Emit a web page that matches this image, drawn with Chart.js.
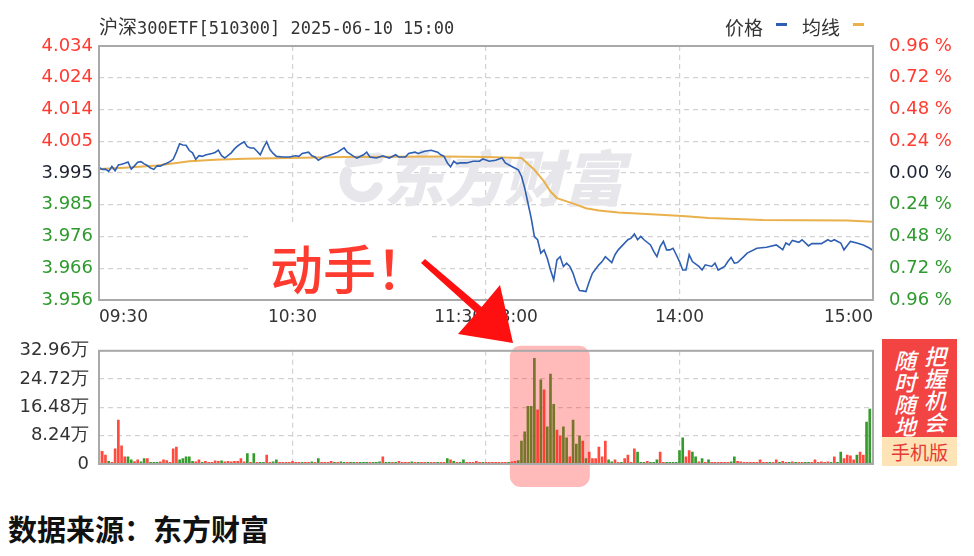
<!DOCTYPE html>
<html><head><meta charset="utf-8">
<script src="https://cdn.jsdelivr.net/npm/chart.js@4.4.1/dist/chart.umd.min.js"></script>
<style>
html,body{margin:0;padding:0;background:#fff;}
#wrap{position:relative;width:974px;height:556px;overflow:hidden;background:#fff;}
canvas{position:absolute;left:0;}
#pc{top:0;} #vc{top:330px;}
.t{position:absolute;white-space:nowrap;line-height:1;}
</style></head><body>
<div id="wrap">
<canvas id="pc" width="974" height="330"></canvas>
<canvas id="vc" width="974" height="160"></canvas>
<div class="t" style="left:99px;top:12px;color:#333;"><span style="font:19px 'Noto Sans CJK SC'">沪深</span><span style="font:17px 'DejaVu Sans Mono'">300ETF[510300] 2025-06-10 15:00</span></div>
<div class="t" style="left:725px;top:13px;color:#333;font:19px 'Noto Sans CJK SC'">价格</div>
<div style="position:absolute;left:776px;top:23px;width:11px;height:3px;background:#2e5fb3"></div>
<div class="t" style="left:802px;top:13px;color:#333;font:19px 'Noto Sans CJK SC'">均线</div>
<div style="position:absolute;left:853px;top:23px;width:11px;height:3px;background:#e9b04c"></div>
<div style="position:absolute;left:882px;top:339px;width:75px;height:98px;background:#f34444"></div>
<div class="t" style="left:894px;top:348px;width:24px;color:#fff;font:italic 500 22px/22px 'Noto Sans CJK SC';white-space:normal">随<br>时<br>随<br>地</div>
<div class="t" style="left:924px;top:344px;width:24px;color:#fff;font:italic 500 22px/22px 'Noto Sans CJK SC';white-space:normal">把<br>握<br>机<br>会</div>
<div class="t" style="left:882px;top:437px;width:75px;height:29px;background:#fde3b5;color:#e63b35;font:19px/29px 'Noto Sans CJK SC';text-align:center">手机版</div>
<div class="t" style="left:8px;top:514px;color:#111;font:bold 29px/29px 'Noto Sans CJK SC'">数据来源：东方财富</div>
<svg width="974" height="556" style="position:absolute;left:0;top:0;pointer-events:none">
<polygon points="421,263 425,259 481.6,307 500,285 513,343 458,334 476.4,313" fill="#ff1010"/>
</svg>
</div>
<script>
// ---------- data ----------
const timeTickMinutes = [0, 60, 120, 180, 240];
const timeTickLabels = ['09:30', '10:30', '11:30/13:00', '14:00', '15:00'];

const priceTickValues = [3.956, 3.96575, 3.9755, 3.98525, 3.995, 4.00475, 4.0145, 4.02425, 4.034];
const priceTickLabels = ['3.956', '3.966', '3.976', '3.985', '3.995', '4.005', '4.014', '4.024', '4.034'];
const pctTickLabels = ['0.96 %', '0.72 %', '0.48 %', '0.24 %', '0.00 %', '0.24 %', '0.48 %', '0.72 %', '0.96 %'];

const priceMinutes = [0,1,2,3,4,5,6,7,8,9,10,11,12,13,14,15,16,17,18,19,20,21,22,23,24,25,26,27,28,29,30,31,32,33,35,36,37,38,39,41,42,43,44,45,46,47,48,49,50,51,52,53,54,55,57,59,61,62,63,65,66,67,68,70,71,73,74,76,77,79,80,82,83,84,86,88,90,92,93,95,96,98,99,101,103,105,106,107,108,109,110,111,112,114,116,118,119,120,121,123,124,125,126,128,130,131,132,133,134,135,136,137,138,139,140,141,142,143,144,145,146,147,148,149,150,151,152,153,155,156,157,159,160,161,164,165,166,167,168,169,171,172,173,174,175,176,177,178,179,180,181,182,183,184,186,187,188,190,191,192,194,195,196,197,198,200,201,204,207,210,211,212,213,214,215,217,218,220,221,224,226,227,228,230,231,233,235,237,239,240];
const priceValues = [3.9967,3.9961,3.9962,3.9955,3.9970,3.9957,3.9975,3.9977,3.9980,3.9984,3.9962,3.9972,3.9983,3.9985,3.9978,3.9973,3.9965,3.9961,3.9972,3.9971,3.9976,3.9980,3.9985,3.9992,4.0014,4.0040,4.0036,4.0035,4.0019,4.0012,3.9992,4.0003,4.0001,4.0005,4.0010,4.0013,4.0020,4.0003,3.9996,4.0012,4.0024,4.0033,4.0040,4.0046,4.0031,4.0027,4.0027,4.0017,4.0006,4.0028,4.0046,4.0022,4.0010,4.0001,3.9999,3.9999,4.0003,4.0001,4.0010,4.0014,4.0003,3.9999,3.9989,4.0001,4.0003,4.0010,4.0014,4.0027,4.0014,4.0001,3.9996,4.0006,4.0014,3.9999,3.9996,4.0003,3.9996,4.0006,3.9999,3.9999,4.0010,4.0014,4.0010,4.0017,4.0020,4.0014,4.0006,4.0001,3.9981,3.9969,3.9986,3.9979,3.9981,3.9981,3.9986,3.9986,3.9993,3.9990,3.9986,3.9989,3.9993,3.9996,3.9981,3.9970,3.9960,3.9940,3.9904,3.9858,3.9812,3.9755,3.9745,3.9704,3.9714,3.9688,3.9652,3.9622,3.9683,3.9693,3.9663,3.9673,3.9663,3.9642,3.9611,3.9589,3.9588,3.9586,3.9616,3.9642,3.9668,3.9678,3.9693,3.9675,3.9699,3.9714,3.9745,3.9750,3.9763,3.9745,3.9755,3.9745,3.9729,3.9709,3.9693,3.9724,3.9740,3.9714,3.9714,3.9719,3.9699,3.9678,3.9652,3.9652,3.9699,3.9678,3.9663,3.9652,3.9668,3.9663,3.9673,3.9652,3.9663,3.9678,3.9691,3.9673,3.9675,3.9694,3.9704,3.9719,3.9722,3.9729,3.9722,3.9714,3.9735,3.9729,3.9743,3.9737,3.9745,3.9726,3.9733,3.9733,3.9745,3.9740,3.9745,3.9735,3.9714,3.9740,3.9735,3.9729,3.9719,3.9712];

const avgMinutes = [0,8,18,24,28,36,45,59,76,107,120,131,135,138,140,142,145,148,151,155,161,174,182,189,206,232,240];
const avgValues = [3.9962,3.9966,3.9973,3.9981,3.9986,3.9991,3.9994,3.9996,3.9999,4.0001,3.9999,3.9996,3.9960,3.9924,3.9893,3.9873,3.9863,3.9853,3.9842,3.9835,3.9829,3.9822,3.9817,3.9812,3.9806,3.9804,3.9800];

const volTickValues = [0, 8.24, 16.48, 24.72, 32.96];
const volTickLabels = ['0', '8.24万', '16.48万', '24.72万', '32.96万'];
// volume (万手) per minute, index 0 = 09:30 ... 240 = 15:00
const volValues = [
3.9,3.7,2.6,0.8,0.5,4.4,12.8,5.3,2.1,2.1, 1.2,0.7,1.2,0.6,1.6,1.6,0.5,0.5,0.5,0.6,
1.2,1.0,0.5,4.4,4.9,1.2,1.6,2.1,2.1,0.8, 0.6,1.2,0.5,0.8,0.5,0.5,0.9,0.8,0.9,0.6,
0.8,0.6,0.8,0.8,1.6,0.6,3.0,0.5,3.0,0.5, 0.5,0.5,2.6,0.5,0.6,1.2,0.5,0.5,0.5,0.5,
0.8,0.5,0.5,0.5,0.5,0.5,0.6,0.5,1.6,0.5, 0.5,0.5,0.8,0.5,0.5,0.6,0.5,0.5,0.5,0.5,
0.5,0.5,0.5,0.5,0.5,0.5,0.5,0.6,2.1,0.5, 0.5,0.5,0.5,0.8,0.5,0.5,0.5,0.6,0.5,0.5,
0.5,0.5,0.5,0.5,0.5,0.5,0.5,0.5,1.6,1.2, 0.8,0.5,0.5,1.2,0.5,0.5,0.5,0.8,0.5,0.5,
0.5,0.5,0.5,0.5,0.5,0.5,0.5,0.5,0.6,0.8, 1.0,6.7,9.4,16.8,16.8,30.8,15.8,24.5,21.6,10.8,
26.2,17.4,9.9,8.1,10.8,7.6,2.1,12.8,5.8,8.1, 6.7,1.6,3.5,1.6,1.6,4.9,2.1,6.7,1.2,0.6,
1.2,0.5,0.5,1.6,2.6,0.5,4.4,3.5,0.5,0.5, 0.8,0.5,0.5,1.2,3.5,0.5,0.5,0.5,0.5,0.5,
3.9,7.6,2.1,3.9,3.5,2.1,0.6,1.6,0.5,1.2, 0.5,0.5,0.5,0.5,0.5,0.5,0.6,2.1,0.8,0.6,
0.5,0.5,0.5,0.5,0.5,1.2,0.5,0.5,0.5,0.5, 1.2,0.5,0.8,0.5,0.5,0.6,0.5,0.5,0.5,0.5,
0.5,0.5,1.2,0.5,0.6,0.5,0.6,0.5,2.1,0.5, 3.5,1.6,2.6,2.4,1.2,2.6,3.5,2.6,12.2,16.0,
0.5];
// r = up (red), g = down (green)
const volDirs = [
'r','r','r','g','r','r','r','r','r','g', 'g','r','r','g','g','r','g','g','g','r',
'r','r','r','r','r','g','g','g','g','g', 'r','r','g','r','r','r','r','r','g','r',
'r','r','r','r','r','r','g','r','g','r', 'g','g','r','r','g','g','r','r','r','r',
'r','r','r','g','r','r','g','r','g','r', 'r','r','r','g','r','g','g','r','g','g',
'r','g','g','g','r','g','g','g','r','g', 'g','r','g','r','r','r','r','g','r','g',
'r','r','g','r','r','g','r','r','g','r', 'g','r','g','g','r','r','r','r','r','g',
'r','r','r','r','r','r','r','g','r','r', 'g','g','g','g','g','g','r','g','r','g',
'g','g','r','r','g','g','r','g','g','g', 'r','g','r','r','r','r','r','r','g','g',
'r','r','g','r','r','r','r','g','g','g', 'r','g','g','g','r','r','g','g','g','g',
'g','g','r','r','g','g','r','g','r','g', 'r','r','r','r','r','r','g','g','r','r',
'r','r','r','r','r','r','r','r','g','r', 'r','g','r','r','g','r','g','r','r','g',
'g','r','r','r','r','r','r','g','r','g', 'g','r','r','r','r','g','r','r','g','g',
'g'];

// ---------- styles ----------
const RED = '#ff3b30', GREEN = '#2e9a2e', DARK = '#1d2333';
const BAR_RED = '#ff4a3d', BAR_GREEN = '#349b2c';
const GRID = '#d2d2d2', FRAME = '#a9a9a9';
Chart.defaults.font.family = "'DejaVu Sans'";

const framePlugin = {
  id: 'frame',
  afterDraw(chart) {
    const {ctx, chartArea: a} = chart;
    ctx.save();
    ctx.strokeStyle = FRAME; ctx.lineWidth = 2;
    ctx.strokeRect(a.left, a.top, a.right - a.left, a.bottom - a.top);
    ctx.restore();
  }
};

const priceDeco = {
  id: 'priceDeco',
  beforeDatasetsDraw(chart) {
    const {ctx} = chart;
    ctx.save();
    // watermark
    ctx.fillStyle = '#e7e7eb';
    ctx.strokeStyle = '#e7e7eb';
    ctx.font = "italic 900 60px 'Noto Sans CJK SC'";
    ctx.textBaseline = 'middle';
    ctx.fillText('东方财富', 384, 178);
    ctx.lineWidth = 11; ctx.lineCap = 'round';
    ctx.beginPath(); ctx.arc(362, 180, 17, 0.15 * Math.PI, 1.15 * Math.PI); ctx.stroke();
    ctx.beginPath(); ctx.moveTo(350, 162); ctx.lineTo(378, 158); ctx.stroke();
    // annotation
    ctx.fillStyle = '#fff';
    ctx.fillRect(248, 224, 180, 75);
    ctx.fillStyle = '#ff3b2f';
    ctx.font = "500 53px 'Noto Sans CJK SC'";
    ctx.textBaseline = 'middle';
    ctx.fillText('动手！', 270, 270);
    ctx.restore();
  }
};

const volDeco = {
  id: 'volDeco',
  afterDatasetsDraw(chart) {
    const {ctx, chartArea: a, scales: {x}} = chart;
    const x0 = x.getPixelForValue(127.4), x1 = x.getPixelForValue(152.2);
    const y0 = a.top - 5, y1 = a.bottom + 23, r = 11;
    ctx.save();
    ctx.fillStyle = 'rgba(255,40,40,0.32)';
    ctx.beginPath();
    ctx.roundRect(x0, y0, x1 - x0, y1 - y0, r);
    ctx.fill();
    ctx.restore();
  }
};

// ---------- price chart ----------
new Chart(document.getElementById('pc'), {
  type: 'line',
  data: {
    datasets: [
      {label: '价格', data: priceMinutes.map((m, i) => ({x: m, y: priceValues[i]})),
       borderColor: '#2e5fb3', borderWidth: 1.6, pointRadius: 0, tension: 0, yAxisID: 'y'},
      {label: '均线', data: avgMinutes.map((m, i) => ({x: m, y: avgValues[i]})),
       borderColor: '#e9b04c', borderWidth: 2, pointRadius: 0, tension: 0, yAxisID: 'y'}
    ]
  },
  options: {
    responsive: false, animation: false,
    layout: {padding: {top: 46, left: 0, right: 0, bottom: 0}},
    plugins: {legend: {display: false}, tooltip: {enabled: false}},
    scales: {
      x: {
        type: 'linear', min: 0, max: 240,
        afterBuildTicks: s => { s.ticks = timeTickMinutes.map(v => ({value: v})); },
        afterFit: s => { s.height = 30; },
        ticks: {callback: (v, i) => timeTickLabels[i], autoSkip: false, maxRotation: 0,
                align: 'inner', padding: 7, color: '#333', font: {size: 17}},
        grid: {color: GRID, drawTicks: false, lineWidth: 1.2},
        border: {display: false, dash: [5, 4]}
      },
      y: {
        position: 'left', min: 3.956, max: 4.034,
        afterBuildTicks: s => { s.ticks = priceTickValues.map(v => ({value: v})); },
        afterFit: s => { s.width = 99; },
        ticks: {callback: (v, i) => priceTickLabels[i], padding: 6, font: {size: 18},
                color: c => c.index < 4 ? GREEN : (c.index === 4 ? DARK : RED)},
        grid: {color: GRID, drawTicks: false, lineWidth: 1.2},
        border: {display: false, dash: [5, 4]}
      },
      y2: {
        position: 'right', min: 3.956, max: 4.034,
        afterBuildTicks: s => { s.ticks = priceTickValues.map(v => ({value: v})); },
        afterFit: s => { s.width = 101; },
        ticks: {callback: (v, i) => pctTickLabels[i], padding: 8, font: {size: 18},
                color: c => c.index < 4 ? GREEN : (c.index === 4 ? DARK : RED)},
        grid: {display: false},
        border: {display: false}
      }
    }
  },
  plugins: [priceDeco, framePlugin]
});

// ---------- volume chart ----------
new Chart(document.getElementById('vc'), {
  type: 'bar',
  data: {
    datasets: [{
      data: volValues.map((v, i) => ({x: i, y: v})),
      backgroundColor: volDirs.map(d => d === 'r' ? BAR_RED : BAR_GREEN),
      barThickness: 2, borderWidth: 0
    }]
  },
  options: {
    responsive: false, animation: false,
    layout: {padding: {top: 12, left: 0, right: 101, bottom: 26}},
    plugins: {legend: {display: false}, tooltip: {enabled: false}},
    scales: {
      x: {
        type: 'linear', min: 0, max: 240, offset: false,
        afterBuildTicks: s => { s.ticks = timeTickMinutes.map(v => ({value: v})); },
        afterFit: s => { s.height = 0; },
        ticks: {display: false},
        grid: {color: GRID, drawTicks: false, offset: false, lineWidth: 1.2},
        border: {display: false, dash: [5, 4]}
      },
      y: {
        min: 0, max: 32.96,
        afterBuildTicks: s => { s.ticks = volTickValues.map(v => ({value: v})); },
        afterFit: s => { s.width = 99; },
        ticks: {callback: (v, i) => volTickLabels[i], padding: 10, font: {size: 18}, color: '#333'},
        grid: {color: GRID, drawTicks: false, lineWidth: 1.2},
        border: {display: false, dash: [5, 4]}
      }
    }
  },
  plugins: [volDeco, framePlugin]
});
</script>
</body></html>
